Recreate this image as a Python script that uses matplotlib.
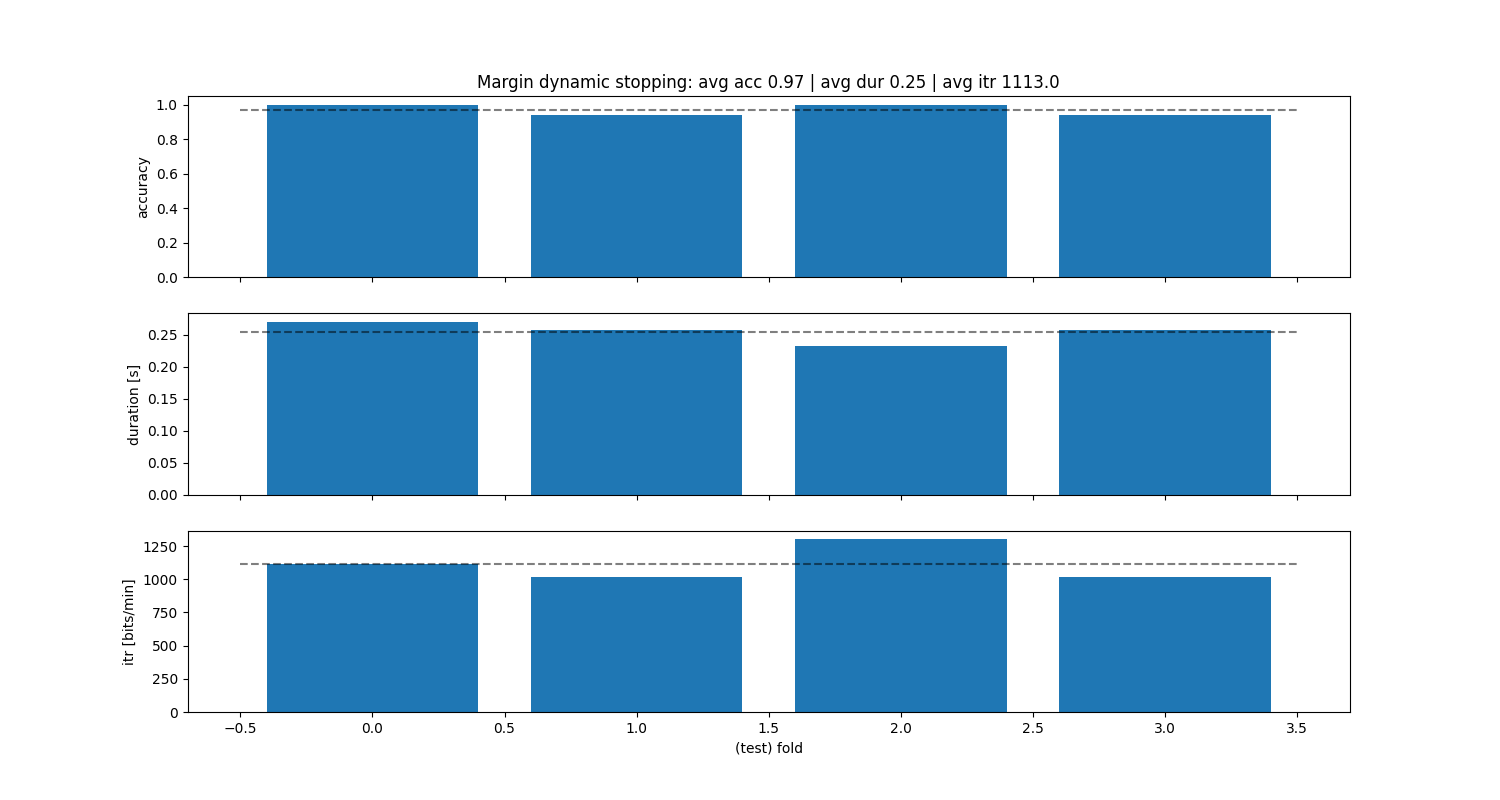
import matplotlib
matplotlib.use("Agg")
import matplotlib.pyplot as plt
import numpy as np

folds = [0, 1, 2, 3]
accuracy = [1.0, 0.9375, 1.0, 0.9375]
duration = [0.2697, 0.2567, 0.2317, 0.2567]
itr = [1115, 1020, 1300, 1020]

avg_acc = 0.96875
avg_dur = 0.2537
avg_itr = 1113.0

title = "Margin dynamic stopping: avg acc 0.97 | avg dur 0.25 | avg itr 1113.0"


def main():
    fig, axes = plt.subplots(3, 1, figsize=(15, 8), dpi=100, sharex=True)

    panels = [
        (accuracy, avg_acc, "accuracy"),
        (duration, avg_dur, "duration [s]"),
        (itr, avg_itr, "itr [bits/min]"),
    ]
    for ax, (values, avg, label) in zip(axes, panels):
        ax.bar(folds, values)
        ax.hlines(avg, -0.5, 3.5, colors="k", linestyles="--", alpha=0.5)
        ax.set_ylabel(label)

    axes[0].set_title(title)
    axes[-1].set_xlabel("(test) fold")

    fig.savefig("out.png")


if __name__ == "__main__":
    main()
